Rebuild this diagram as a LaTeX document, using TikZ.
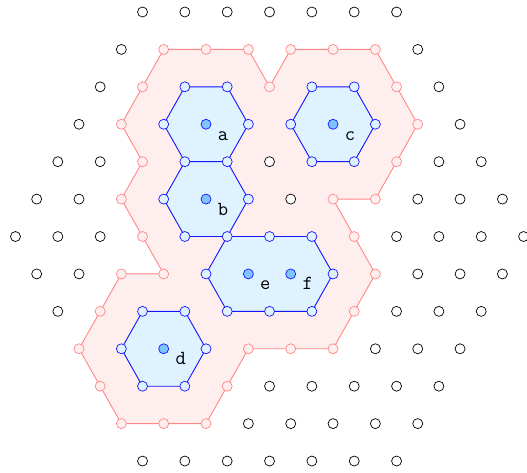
\documentclass[tikz,border=0pt]{standalone}
\definecolor{pinkline}{RGB}{255,135,135}
\definecolor{pinkfill}{RGB}{255,238,238}
\definecolor{blueline}{RGB}{20,20,255}
\definecolor{bluefill}{RGB}{222,242,255}
\definecolor{centerfill}{RGB}{128,196,255}
\begin{document}
\begin{tikzpicture}[x=1pt,y=-1pt,
  latpt/.style={circle,draw=black,fill=white,line width=0.7pt,minimum size=10pt,inner sep=0pt},
  pinkpt/.style={latpt,draw=pinkline,fill=pinkfill},
  bluept/.style={latpt,draw=blueline,fill=bluefill},
  ctrpt/.style={latpt,draw=blueline,fill=centerfill},
  region/.style={draw=pinkline,fill=pinkfill,line width=0.9pt,line join=round},
  hexcell/.style={draw=blueline,fill=bluefill,line width=0.9pt,line join=round},
  lbl/.style={font=\fontsize{20}{24}\selectfont\ttfamily,anchor=base,inner sep=0pt,xshift=17pt,yshift=-16pt}]
\useasboundingbox (0,0) rectangle (527,473);
% lattice coordinates
\foreach \j in {0,...,12}{
  \pgfmathtruncatemacro\kmin{abs(\j-6)}
  \pgfmathtruncatemacro\knext{\kmin+2}
  \pgfmathtruncatemacro\kmax{24-abs(\j-6)}
  \foreach \k in {\kmin,\knext,...,\kmax}{
    \coordinate (p-\k-\j) at ({15.5+21.17*\k},{12+37.42*\j});
  }
}
% special points
\foreach \p in {7-1,9-1,11-1,12-2,13-1,15-1,17-1,18-2,19-3,18-4,17-5,15-5,16-6,17-7,16-8,15-9,13-9,11-9,10-10,9-11,7-11,5-11,4-10,3-9,4-8,5-7,7-7,6-6,5-5,6-4,5-3,6-2,
  7-3,8-2,10-2,11-3,10-4,8-4,7-5,11-5,10-6,8-6,13-3,14-2,16-2,17-3,16-4,14-4,9-7,12-6,14-6,15-7,14-8,12-8,10-8,5-9,6-8,8-8,9-9,8-10,6-10,
  9-3,9-5,15-3,11-7,13-7,7-9}{\expandafter\gdef\csname sp-\p\endcsname{}}
% pink region
\path[region] (p-7-1) -- (p-9-1) -- (p-11-1) -- (p-12-2) -- (p-13-1) -- (p-15-1) -- (p-17-1) -- (p-18-2) -- (p-19-3) -- (p-18-4) -- (p-17-5) -- (p-15-5) -- (p-16-6) -- (p-17-7) -- (p-16-8) -- (p-15-9) -- (p-13-9) -- (p-11-9) -- (p-10-10) -- (p-9-11) -- (p-7-11) -- (p-5-11) -- (p-4-10) -- (p-3-9) -- (p-4-8) -- (p-5-7) -- (p-7-7) -- (p-6-6) -- (p-5-5) -- (p-6-4) -- (p-5-3) -- (p-6-2) -- cycle;
% blue cells
\path[hexcell] (p-7-3) -- (p-8-2) -- (p-10-2) -- (p-11-3) -- (p-10-4) -- (p-8-4) -- cycle;
\path[hexcell] (p-7-5) -- (p-8-4) -- (p-10-4) -- (p-11-5) -- (p-10-6) -- (p-8-6) -- cycle;
\path[hexcell] (p-13-3) -- (p-14-2) -- (p-16-2) -- (p-17-3) -- (p-16-4) -- (p-14-4) -- cycle;
\path[hexcell] (p-9-7) -- (p-10-6) -- (p-12-6) -- (p-14-6) -- (p-15-7) -- (p-14-8) -- (p-12-8) -- (p-10-8) -- cycle;
\path[hexcell] (p-5-9) -- (p-6-8) -- (p-8-8) -- (p-9-9) -- (p-8-10) -- (p-6-10) -- cycle;
% plain lattice points
\foreach \j in {0,...,12}{
  \pgfmathtruncatemacro\kmin{abs(\j-6)}
  \pgfmathtruncatemacro\knext{\kmin+2}
  \pgfmathtruncatemacro\kmax{24-abs(\j-6)}
  \foreach \k in {\kmin,\knext,...,\kmax}{
    \ifcsname sp-\k-\j\endcsname\else
      \node[latpt] (n-\k-\j) at (p-\k-\j) {};
    \fi
  }
}
% pink boundary points
\foreach \p in {7-1,9-1,11-1,12-2,13-1,15-1,17-1,18-2,19-3,18-4,17-5,15-5,16-6,17-7,16-8,15-9,13-9,11-9,10-10,9-11,7-11,5-11,4-10,3-9,4-8,5-7,7-7,6-6,5-5,6-4,5-3,6-2}
  \node[pinkpt] (n-\p) at (p-\p) {};
% blue vertices
\foreach \p in {7-3,8-2,10-2,11-3,10-4,8-4,7-5,11-5,10-6,8-6,13-3,14-2,16-2,17-3,16-4,14-4,9-7,12-6,14-6,15-7,14-8,12-8,10-8,5-9,6-8,8-8,9-9,8-10,6-10}
  \node[bluept] (n-\p) at (p-\p) {};
% centers
\foreach \p in {9-3,9-5,15-3,11-7,13-7,7-9}
  \node[ctrpt] (n-\p) at (p-\p) {};
% labels
\node[lbl] (la) at (p-9-3) {a};
\node[lbl] (lb) at (p-9-5) {b};
\node[lbl] (lc) at (p-15-3) {c};
\node[lbl] (le) at (p-11-7) {e};
\node[lbl] (lf) at (p-13-7) {f};
\node[lbl] (ld) at (p-7-9) {d};
\end{tikzpicture}
\end{document}
